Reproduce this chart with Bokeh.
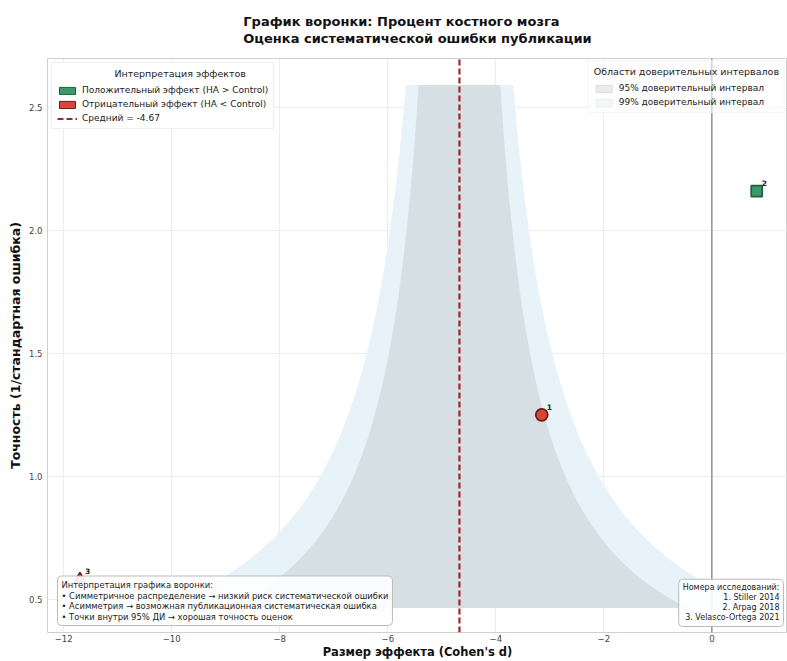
import numpy as np
from bokeh.plotting import figure
from bokeh.models import (ColumnDataSource, Legend, LegendItem, Span, Label,
                          FixedTicker)
from bokeh.core.properties import value
from bokeh.embed import file_html
from bokeh.resources import INLINE

# Study data
study_ids = ["1", "2", "3"]
study_names = ["Stiller 2014", "Arpag 2018", "Velasco-Ortega 2021"]
effect_sizes = [-3.15, 0.83, -11.70]
precisions = [1.25, 2.16, 0.58]

x_ticks = [-12, -10, -8, -6, -4, -2, 0]
y_ticks = [0.5, 1.0, 1.5, 2.0, 2.5]

FONT = "DejaVu Sans"
GREEN = "#3b9a69"
GREEN_EDGE = "#1e5e3c"
RED = "#d9443b"
RED_EDGE = "#6e1b16"
FILL_95 = "#d6dfe4"
FILL_99 = "#e8f3f9"
MEAN_COLOR = "#9e2a26"

mean_effect = float(np.mean(effect_sizes))

# Funnel boundaries around the pooled mean
prec_grid = np.linspace(min(precisions) * 0.8, max(precisions) * 1.2, 300)
funnel = ColumnDataSource(dict(
    prec=prec_grid,
    lo95=mean_effect - 1.96 / prec_grid, hi95=mean_effect + 1.96 / prec_grid,
    lo99=mean_effect - 2.576 / prec_grid, hi99=mean_effect + 2.576 / prec_grid,
))

marker_by_study = ["circle", "square", "triangle"]
size_by_study = [12, 11, 12]
pts = ColumnDataSource(dict(
    x=effect_sizes, y=precisions, label=study_ids,
    marker=marker_by_study, size=size_by_study,
    fill=[GREEN if e > 0 else RED for e in effect_sizes],
    edge=[GREEN_EDGE if e > 0 else RED_EDGE for e in effect_sizes],
))

X_RANGE = (-12.3, 1.4)
Y_RANGE = (0.364, 2.70)

p = figure(width=787, height=661, x_range=X_RANGE, y_range=Y_RANGE,
           output_backend="svg", toolbar_location=None,
           title="График воронки: Процент костного мозга\n"
                 "Оценка систематической ошибки публикации",
           min_border_left=47, min_border_right=0,
           min_border_top=58, min_border_bottom=25)

p.title.align = "center"
p.title.text_font = FONT
p.title.text_font_size = "13px"
p.title.text_font_style = "bold"
p.title.text_color = "#111111"
p.title.text_line_height = 1.1
p.title.vertical_align = "top"
p.title.standoff = 21

p.background_fill_color = "white"
p.outline_line_color = "#cfcfcf"
p.grid.grid_line_color = "#e9e9e9"
p.grid.grid_line_width = 0.8

p.xaxis.ticker = FixedTicker(ticks=x_ticks)
p.yaxis.ticker = FixedTicker(ticks=y_ticks)
p.xaxis.major_label_overrides = {t: (f"\u2212{abs(t)}" if t < 0 else str(t)) for t in x_ticks}
p.yaxis.major_label_overrides = {t: f"{t:.1f}" for t in y_ticks}
for ax in (p.xaxis, p.yaxis):
    ax.axis_line_color = None
    ax.major_tick_line_color = None
    ax.minor_tick_line_color = None
    ax.major_tick_out = 0
    ax.major_tick_in = 0
    ax.minor_tick_out = 0
    ax.minor_tick_in = 0
    ax.major_label_text_font = FONT
    ax.major_label_text_font_size = "8.5px"
    ax.major_label_text_color = "#444444"
    ax.axis_label_text_font = FONT
    ax.axis_label_text_font_style = "bold"
    ax.axis_label_text_color = "#111111"
p.xaxis.axis_label_text_font_size = "11.5px"
p.yaxis.axis_label_text_font_size = "12.5px"
p.xaxis.axis_label = "Размер эффекта (Cohen's d)"
p.yaxis.axis_label = "Точность (1/стандартная ошибка)"
p.xaxis.major_label_standoff = 2
p.xaxis.axis_label_standoff = 0
p.yaxis.major_label_standoff = 5
p.yaxis.axis_label_standoff = 3

# Confidence regions
r99 = p.harea(x1="lo99", x2="hi99", y="prec", source=funnel, fill_color=FILL_99,
              fill_alpha=1.0)
r95 = p.harea(x1="lo95", x2="hi95", y="prec", source=funnel, fill_color=FILL_95,
              fill_alpha=1.0)

# Zero-effect reference and pooled mean
p.add_layout(Span(location=0, dimension="height", line_color="#6a6a6a",
                  line_width=1.2, line_alpha=0.9))
mean_line = p.line(x=[mean_effect, mean_effect], y=list(Y_RANGE), line_color=MEAN_COLOR,
                   line_width=2.2, line_dash="6 3")

# Studies
p.scatter(x="x", y="y", marker="marker", size="size", source=pts,
          fill_color="fill", line_color="edge", line_width=1.7)
p.text(x="x", y="y", text="label", source=pts, x_offset=5, y_offset=-5,
       text_font=value(FONT), text_font_size="7.5px", text_font_style="bold",
       text_color="#222222", text_baseline="bottom", text_align="left")

# Legend swatches (no visible data on the plot)
nan = [float("nan")]
pos_proxy = p.quad(left=nan, right=nan, top=nan, bottom=nan, fill_color=GREEN,
                   line_color=GREEN_EDGE)
neg_proxy = p.quad(left=nan, right=nan, top=nan, bottom=nan, fill_color=RED,
                   line_color=RED_EDGE)
ci95_proxy = p.quad(left=nan, right=nan, top=nan, bottom=nan, fill_color="#e9ebed",
                    line_color="#d9dcde")
ci99_proxy = p.quad(left=nan, right=nan, top=nan, bottom=nan, fill_color="#f2f7fa",
                    line_color="#e8eef2")

def style_legend(lg):
    lg.label_text_font = FONT
    lg.label_text_font_size = "9px"
    lg.label_text_color = "#222222"
    lg.title_text_font = FONT
    lg.title_text_font_size = "9.5px"
    lg.title_text_font_style = "normal"
    lg.title_text_color = "#222222"
    lg.label_height = 10
    lg.glyph_height = 9
    lg.glyph_width = 20
    lg.spacing = 4
    lg.padding = 5
    lg.margin = 4
    lg.title_standoff = 6
    lg.label_standoff = 5

legend_fx = Legend(items=[
    LegendItem(label="Положительный эффект (HA > Control)", renderers=[pos_proxy]),
    LegendItem(label="Отрицательный эффект (HA < Control)", renderers=[neg_proxy]),
    LegendItem(label=f"Средний = {mean_effect:.2f}", renderers=[mean_line]),
], title="                   Интерпретация эффектов", location="top_left")
style_legend(legend_fx)
legend_fx.background_fill_alpha = 0.9
legend_fx.border_line_color = "#dddddd"
p.add_layout(legend_fx)

legend_ci = Legend(items=[
    LegendItem(label="95% доверительный интервал", renderers=[ci95_proxy]),
    LegendItem(label="99% доверительный интервал", renderers=[ci99_proxy]),
], title="Области доверительных интервалов", location="top_right")
style_legend(legend_ci)
legend_ci.background_fill_alpha = 0.6
legend_ci.border_line_color = "#eeeeee"
legend_ci.margin = 2
p.add_layout(legend_ci)

# Notes
note = ("Интерпретация графика воронки:\n"
        "• Симметричное распределение → низкий риск систематической ошибки\n"
        "• Асимметрия → возможная публикационная систематическая ошибка\n"
        "• Точки внутри 95% ДИ → хорошая точность оценок")
p.add_layout(Label(x=X_RANGE[0], y=Y_RANGE[0], x_offset=10, y_offset=7,
                   text=note, text_font=FONT, text_font_size="8.4px",
                   text_line_height=1.05,
                   text_color="#222222", anchor="bottom_left",
                   background_fill_color="white", background_fill_alpha=0.9,
                   border_line_color="#bbbbbb", padding=4, border_radius=4))

ids_text = "Номера исследований:\n" + "\n".join(
    f"{i}. {n}" for i, n in zip(study_ids, study_names))
p.add_layout(Label(x=X_RANGE[1], y=Y_RANGE[0], x_offset=-4, y_offset=6,
                   text=ids_text, text_font=FONT, text_font_size="8px",
                   text_line_height=1.12,
                   text_color="#222222", anchor="bottom_right", text_align="right",
                   background_fill_color="white", background_fill_alpha=0.9,
                   border_line_color="#bbbbbb", padding=4, border_radius=4))

open("out.html", "w").write(file_html(p, INLINE))
